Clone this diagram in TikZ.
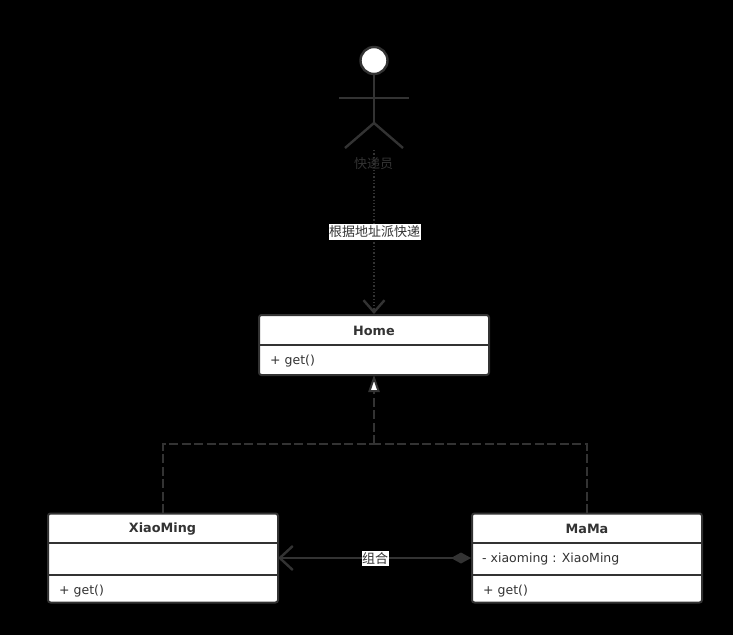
\documentclass[tikz,border=0pt]{standalone}
\usepackage{fontspec}
\setmainfont{DejaVu Sans}
\newfontfamily\cjk{Noto Sans CJK SC}
\usetikzlibrary{arrows.meta,positioning}
\definecolor{ink}{HTML}{333333}
\tikzset{
  x=1pt,y=-1pt,
  classbox/.style={draw=ink,line width=2pt,fill=white,rounded corners=2.5pt,minimum width=230pt,inner sep=0pt,anchor=north west},
  divider/.style={draw=ink,line width=2.4pt},
  title/.style={font=\fontsize{12.8}{15}\selectfont\bfseries,text=ink,inner sep=0pt},
  member/.style={font=\fontsize{12.5}{15}\selectfont,text=ink,inner sep=0pt,anchor=west},
  edgelabel/.style={font=\cjk\fontsize{13}{15}\selectfont,text=ink,fill=white,inner xsep=0.5pt,inner ysep=1.5pt},
  limb/.style={draw=ink,line width=2.4pt},
  usearrow/.style={draw=ink,line width=1.3pt,dotted,-{Straight Barb[length=12pt,width=21pt,line width=2.4pt]}},
  realize/.style={draw=ink,line width=2.5pt,dash pattern=on 9pt off 3.5pt},
  compose/.style={draw=ink,line width=2.2pt,{Straight Barb[length=13pt,width=24pt,line width=2.4pt]}-{Diamond[length=20pt,width=11pt,fill=ink]}},
}
\begin{document}
\begin{tikzpicture}
\useasboundingbox[fill=black] (0,0) rectangle (733,635);
% actor
\node[circle,draw=ink,line width=2.4pt,fill=white,minimum size=27pt,inner sep=0pt] (head) at (374,60.5) {};
\coordinate (hip) at (374,123);
\coordinate (armL) at (339,98);
\coordinate (armR) at (409,98);
\coordinate (legL) at (345,148);
\coordinate (legR) at (403,148);
\draw[limb] (head.south) -- (hip);
\draw[limb] (armL) -- (armR);
\draw[limb,line join=miter] (legL) -- (hip) -- (legR);
\coordinate (actorfoot) at (374,150);
\node[font=\cjk\fontsize{13}{15}\selectfont,text=ink,inner sep=0pt] (actorlabel) at (373.5,164) {快递员};
% classes
\node[classbox,minimum height=60pt] (home) at (258,314) {};
\draw[divider] (259,345) -- (489,345);
\node[title] (hometitle) at (374,330.5) {Home};
\node[member] (homeget) at (270,361) {+ get()};
\node[classbox,minimum height=89pt] (xm) at (47,512.5) {};
\draw[divider] (48,543) -- (277,543);
\draw[divider] (48,575) -- (277,575);
\node[title] (xmtitle) at (162.5,529) {XiaoMing};
\node[member] (xmget) at (59,591) {+ get()};
\node[classbox,minimum height=89pt] (mm) at (471,512.5) {};
\draw[divider] (472,543) -- (702,543);
\draw[divider] (472,575) -- (702,575);
\node[title] (mmtitle) at (587,529) {MaMa};
\node[member] (mmattr) at (482,559) {- xiaoming : XiaoMing};
\node[member] (mmget) at (483,591) {+ get()};
% connectors
\coordinate (hometop) at (374,314);
\coordinate (homefoot) at (374,392);
\coordinate (junction) at (374,444);
\coordinate (xmtop) at (163,513);
\coordinate (xmcorner) at (163,444);
\coordinate (mmtop) at (587,513);
\coordinate (mmcorner) at (587,444);
\coordinate (xmside) at (278,558);
\coordinate (mmside) at (471,558);
\draw[usearrow] (actorfoot) -- (hometop);
\node[edgelabel] (uselabel) at (374.5,232) {根据地址派快递};
\draw[realize] (xmtop) -- (xmcorner) -- (junction);
\draw[realize] (mmtop) -- (mmcorner) -- (junction);
\draw[realize] (junction) -- (homefoot);
\draw[draw=ink,line width=2pt,fill=white,line join=miter] (374,378) -- (378.5,391) -- (369.5,391) -- cycle;
\draw[compose] (xmside) -- (mmside);
\node[edgelabel] (complabel) at (375,558.5) {组合};
\end{tikzpicture}
\end{document}
